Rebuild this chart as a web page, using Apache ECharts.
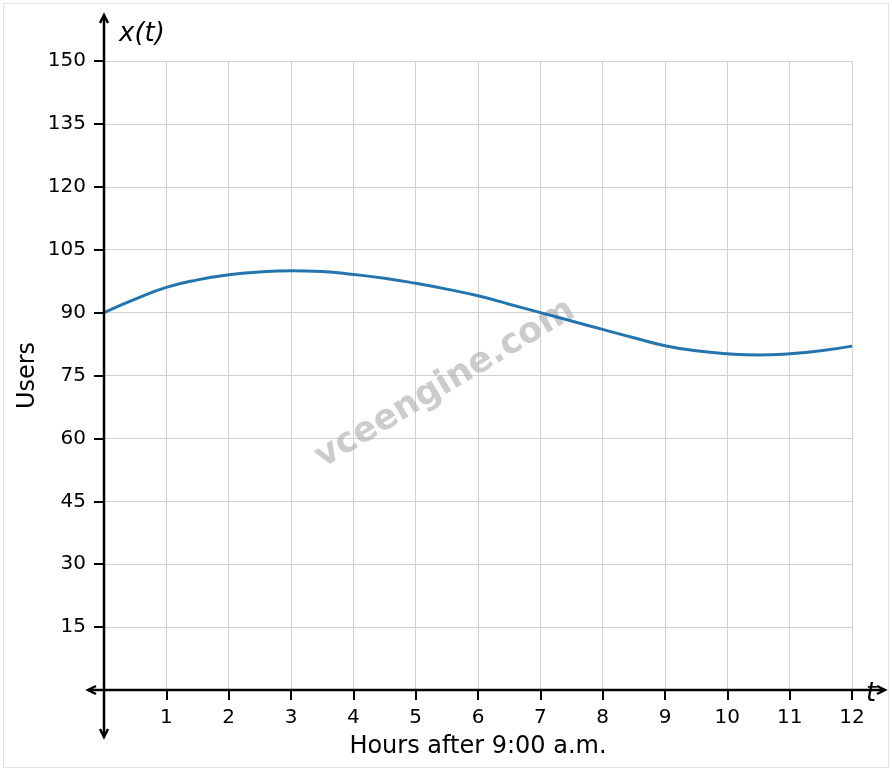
<!DOCTYPE html>
<html>
<head>
<meta charset="utf-8">
<script src="https://cdn.jsdelivr.net/npm/echarts@6/dist/echarts.min.js"></script>
<style>
  html, body { margin: 0; padding: 0; background: #fff; }
  #frame { position: absolute; left: 3px; top: 3px; right: 3px; bottom: 3px; border: 1px solid #e2e2e2; }
  #chart { width: 892px; height: 771px; position: absolute; left: 0; top: 0; }
</style>
</head>
<body>
<div id="frame"></div>
<div id="chart"></div>
<script>
    // hours after 9:00 a.m. and users
    var hours = [0, 0.5, 1, 1.5, 2, 2.5, 3, 3.5, 4, 4.5, 5, 5.5, 6,
                 6.5, 7, 7.5, 8, 8.5, 9, 9.5, 10, 10.5, 11, 11.5, 12];
    var users = [90, 93.2, 96, 97.8, 99, 99.7, 100, 99.8, 99.1, 98.2, 97, 95.6, 94,
                 92, 90, 88, 86, 84, 82.1, 80.9, 80.2, 79.9, 80.2, 80.9, 82];

    var xTicks = [0, 12, 1];      // min, max, interval
    var yTicks = [0, 150, 15];

    var font = 'DejaVu Sans';
    var myChart = echarts.init(document.getElementById('chart'));

    var points = [];
    for (var i = 0; i < hours.length; i++) {
        points.push([hours[i], users[i]]);
    }

    var option = {
        backgroundColor: 'transparent',
        animation: false,
        grid: { left: 104, right: 40, top: 61, bottom: 81 },
        xAxis: {
            type: 'value',
            min: xTicks[0], max: xTicks[1], interval: xTicks[2],
            name: 'Hours after 9:00 a.m.',
            nameLocation: 'middle',
            nameGap: 45,
            nameTextStyle: { fontFamily: font, fontSize: 24, color: '#000' },
            axisLine: { show: false },
            axisTick: { show: true, length: 10, lineStyle: { color: '#000', width: 2 } },
            axisLabel: {
                fontFamily: font, fontSize: 20, color: '#000', margin: 18,
                formatter: function (v) { return v === 0 ? '' : v; }
            },
            splitLine: { show: true, lineStyle: { color: '#d0d0d0', width: 1 } }
        },
        yAxis: {
            type: 'value',
            min: yTicks[0], max: yTicks[1], interval: yTicks[2],
            name: 'Users',
            nameLocation: 'middle',
            nameGap: 64,
            nameMoveOverlap: false,
            nameTextStyle: { fontFamily: font, fontSize: 24, color: '#000' },
            axisLine: { show: false },
            axisTick: { show: true, length: 10, lineStyle: { color: '#000', width: 2 } },
            axisLabel: {
                fontFamily: font, fontSize: 20, color: '#000', margin: 18,
                formatter: function (v) { return v === 0 ? '' : v; }
            },
            splitLine: { show: true, lineStyle: { color: '#d0d0d0', width: 1 } }
        },
        series: [{
            type: 'line',
            data: points,
            smooth: true,
            showSymbol: false,
            lineStyle: { color: '#2475ae', width: 3 },
            z: 5
        }]
    };
    myChart.setOption(option);

    // axes with open arrowheads, extended past the grid like the reference
    var origin = myChart.convertToPixel({ gridIndex: 0 }, [0, 0]);
    var yMaxPx = myChart.convertToPixel({ gridIndex: 0 }, [0, 150]);
    var xMaxPx = myChart.convertToPixel({ gridIndex: 0 }, [12, 0]);
    var ax = origin[0], ay = origin[1];
    var yTop = yMaxPx[1] - 46, yBot = ay + 47;
    var xLeft = ax - 16, xRight = xMaxPx[0] + 33;
    var axStyle = { stroke: '#000', lineWidth: 2.5, fill: null };

    myChart.setOption({
        graphic: [
            { type: 'line', shape: { x1: ax, y1: yTop, x2: ax, y2: yBot }, style: axStyle, z: 10 },
            { type: 'line', shape: { x1: xLeft, y1: ay, x2: xRight, y2: ay }, style: axStyle, z: 10 },
            { type: 'polyline', shape: { points: [[ax - 4, yTop + 8], [ax, yTop], [ax + 4, yTop + 8]] }, style: axStyle, z: 10 },
            { type: 'polyline', shape: { points: [[ax - 4, yBot - 8], [ax, yBot], [ax + 4, yBot - 8]] }, style: axStyle, z: 10 },
            { type: 'polyline', shape: { points: [[xLeft + 8, ay - 4], [xLeft, ay], [xLeft + 8, ay + 4]] }, style: axStyle, z: 10 },
            { type: 'polyline', shape: { points: [[xRight - 8, ay - 4], [xRight, ay], [xRight - 8, ay + 4]] }, style: axStyle, z: 10 },
            {
                type: 'text', x: ax + 15, y: yTop + 19, z: 10,
                style: {
                    text: 'x(t)', fontFamily: font, fontStyle: 'italic', fontSize: 26,
                    fill: '#000', verticalAlign: 'middle'
                }
            },
            {
                type: 'text', x: xRight - 19, y: ay + 4, z: 10,
                style: {
                    text: 't', fontFamily: font, fontStyle: 'italic', fontSize: 26,
                    fill: '#000', verticalAlign: 'middle'
                }
            },
            {
                type: 'text', x: 445, y: 384, rotation: 31 * Math.PI / 180, z: 1,
                style: {
                    text: 'vceengine.com', fontFamily: font, fontWeight: 'bold', fontSize: 35,
                    fill: 'rgba(170,170,170,0.6)', align: 'center', verticalAlign: 'middle'
                }
            }
        ]
    });
</script>
</body>
</html>
